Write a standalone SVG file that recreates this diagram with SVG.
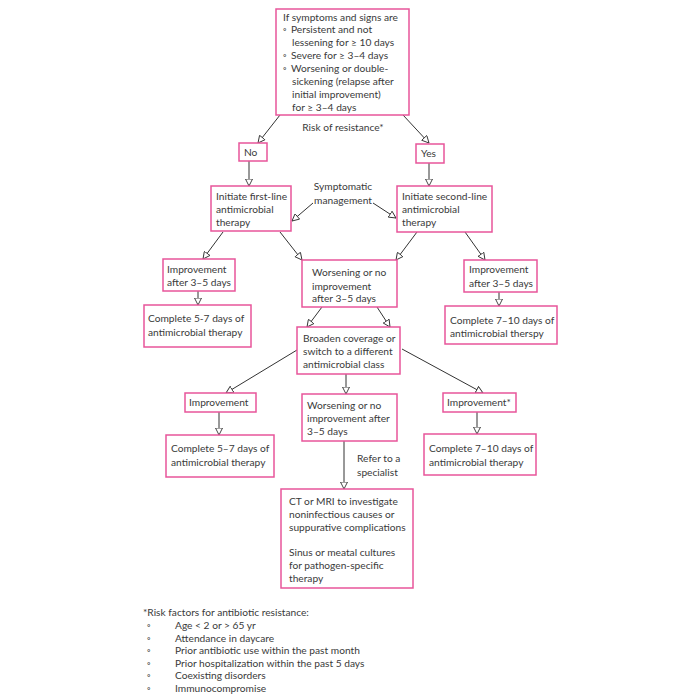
<svg xmlns="http://www.w3.org/2000/svg" width="700" height="700" viewBox="0 0 700 700">
<style>
.box{fill:#fff;stroke:#e8559a;stroke-width:1.5}
.t{font-family:Lato,"Liberation Sans",sans-serif;font-size:10.2px;fill:#3a3a3a}
.m{text-anchor:middle}
.c{fill:none;stroke:#333;stroke-width:1}
</style>
<defs>
<marker id="ah" markerUnits="userSpaceOnUse" markerWidth="8" markerHeight="8" viewBox="0 0 8 8" refX="7.5" refY="4" orient="auto">
<path d="M0.5,0.5 L7.5,4 L0.5,7.5 z" fill="#fff" stroke="#333" stroke-width="0.9"/>
</marker>
</defs>
<rect width="700" height="700" fill="#fff"/>
<g id="connectors">
<line class="c" x1="280" y1="115" x2="258" y2="143" marker-end="url(#ah)"/>
<line class="c" x1="403" y1="115" x2="429" y2="143" marker-end="url(#ah)"/>
<line class="c" x1="249" y1="161" x2="249" y2="186" marker-end="url(#ah)"/>
<line class="c" x1="429" y1="163" x2="429" y2="186" marker-end="url(#ah)"/>
<line class="c" x1="313" y1="203" x2="292" y2="221" marker-end="url(#ah)"/>
<line class="c" x1="373" y1="203" x2="396" y2="218" marker-end="url(#ah)"/>
<line class="c" x1="223" y1="232" x2="203" y2="259" marker-end="url(#ah)"/>
<line class="c" x1="280" y1="232" x2="302" y2="260" marker-end="url(#ah)"/>
<line class="c" x1="417" y1="232" x2="396" y2="260" marker-end="url(#ah)"/>
<line class="c" x1="465" y1="232" x2="485" y2="260" marker-end="url(#ah)"/>
<line class="c" x1="198" y1="291" x2="198" y2="305" marker-end="url(#ah)"/>
<line class="c" x1="499" y1="292" x2="499" y2="306" marker-end="url(#ah)"/>
<line class="c" x1="322" y1="307" x2="307" y2="327" marker-end="url(#ah)"/>
<line class="c" x1="377" y1="307" x2="390" y2="327" marker-end="url(#ah)"/>
<line class="c" x1="297" y1="350" x2="226" y2="393" marker-end="url(#ah)"/>
<line class="c" x1="346" y1="374" x2="346" y2="394" marker-end="url(#ah)"/>
<line class="c" x1="402" y1="349" x2="483" y2="393" marker-end="url(#ah)"/>
<line class="c" x1="219" y1="412" x2="219" y2="435" marker-end="url(#ah)"/>
<line class="c" x1="477" y1="412" x2="477" y2="434" marker-end="url(#ah)"/>
<line class="c" x1="344" y1="441" x2="344" y2="489" marker-end="url(#ah)"/>
<text class="t m" x="343" y="131">Risk of resistance*</text>
<text class="t m" x="343" y="190">Symptomatic</text>
<text class="t m" x="343" y="204">management</text>
<text class="t" x="357" y="462">Refer to a</text>
<text class="t" x="357" y="476">specialist</text>
</g>
<g id="n-start">
<rect class="box" x="276" y="9" width="133" height="106"/>
<text class="t" x="283" y="20.5">If symptoms and signs are</text>
<text class="t" x="283" y="33.4">◦</text><text class="t" x="291" y="33.4">Persistent and not</text>
<text class="t" x="292" y="46.3">lessening for ≥ 10 days</text>
<text class="t" x="283" y="59.2">◦</text><text class="t" x="291" y="59.2">Severe for ≥ 3–4 days</text>
<text class="t" x="283" y="72.1">◦</text><text class="t" x="291" y="72.1">Worsening or double-</text>
<text class="t" x="292" y="85">sickening (relapse after</text>
<text class="t" x="292" y="97.9">initial improvement)</text>
<text class="t" x="292" y="110.8">for ≥ 3–4 days</text>
</g>
<g id="n-no">
<rect class="box" x="239" y="143" width="28" height="18"/>
<text class="t" x="244" y="156">No</text>
</g>
<g id="n-yes">
<rect class="box" x="416" y="144" width="28" height="19"/>
<text class="t" x="421" y="157">Yes</text>
</g>
<g id="n-first">
<rect class="box" x="211" y="186" width="80" height="45"/>
<text class="t" x="216" y="200">Initiate first-line</text>
<text class="t" x="216" y="213">antimicrobial</text>
<text class="t" x="216" y="226">therapy</text>
</g>
<g id="n-second">
<rect class="box" x="397" y="186" width="95" height="46"/>
<text class="t" x="402" y="200">Initiate second-line</text>
<text class="t" x="402" y="213">antimicrobial</text>
<text class="t" x="402" y="226">therapy</text>
</g>
<g id="n-imp1">
<rect class="box" x="163" y="259" width="72" height="32"/>
<text class="t" x="167" y="273">Improvement</text>
<text class="t" x="167" y="286">after 3–5 days</text>
</g>
<g id="n-worse1">
<rect class="box" x="302" y="260" width="95" height="47"/>
<text class="t" x="312" y="276">Worsening or no</text>
<text class="t" x="312" y="289.5">improvement</text>
<text class="t" x="312" y="302">after 3–5 days</text>
</g>
<g id="n-imp2">
<rect class="box" x="464" y="260" width="73" height="32"/>
<text class="t" x="469" y="273">Improvement</text>
<text class="t" x="469" y="286.5">after 3–5 days</text>
</g>
<g id="n-comp1">
<rect class="box" x="144" y="305" width="107" height="42"/>
<text class="t" x="148" y="322">Complete 5-7 days of</text>
<text class="t" x="148" y="336">antimicrobial therapy</text>
</g>
<g id="n-comp2">
<rect class="box" x="445" y="306" width="112" height="38"/>
<text class="t" x="450" y="323.5">Complete 7–10 days of</text>
<text class="t" x="450" y="336.5">antimicrobial therspy</text>
</g>
<g id="n-broaden">
<rect class="box" x="297" y="327" width="103" height="47"/>
<text class="t" x="303" y="342">Broaden coverage or</text>
<text class="t" x="303" y="355">switch to a different</text>
<text class="t" x="303" y="368">antimicrobial class</text>
</g>
<g id="n-imp3">
<rect class="box" x="185" y="393" width="71" height="19"/>
<text class="t" x="189" y="406">Improvement</text>
</g>
<g id="n-worse2">
<rect class="box" x="302" y="394" width="95" height="47"/>
<text class="t" x="307" y="409">Worsening or no</text>
<text class="t" x="307" y="422">improvement after</text>
<text class="t" x="307" y="435">3–5 days</text>
</g>
<g id="n-imp4">
<rect class="box" x="443" y="393" width="73" height="19"/>
<text class="t" x="447" y="406">Improvement*</text>
</g>
<g id="n-comp3">
<rect class="box" x="166" y="435" width="108" height="42"/>
<text class="t" x="171" y="452">Complete 5–7 days of</text>
<text class="t" x="171" y="466">antimicrobial therapy</text>
</g>
<g id="n-comp4">
<rect class="box" x="424" y="434" width="112" height="41"/>
<text class="t" x="429" y="452">Complete 7–10 days of</text>
<text class="t" x="429" y="466">antimicrobial therapy</text>
</g>
<g id="n-ct">
<rect class="box" x="281" y="489" width="132" height="99"/>
<text class="t" x="289" y="505">CT or MRI to investigate</text>
<text class="t" x="289" y="518">noninfectious causes or</text>
<text class="t" x="289" y="531">suppurative complications</text>
<text class="t" x="289" y="556">Sinus or meatal cultures</text>
<text class="t" x="289" y="569">for pathogen-specific</text>
<text class="t" x="289" y="582">therapy</text>
</g>
<g id="footnote">
<text class="t" x="143" y="616">*Risk factors for antibiotic resistance:</text>
<text class="t" x="147" y="629">◦</text><text class="t" x="175" y="629">Age &lt; 2 or &gt; 65 yr</text>
<text class="t" x="147" y="641.5">◦</text><text class="t" x="175" y="641.5">Attendance in daycare</text>
<text class="t" x="147" y="654">◦</text><text class="t" x="175" y="654">Prior antibiotic use within the past month</text>
<text class="t" x="147" y="666.5">◦</text><text class="t" x="175" y="666.5">Prior hospitalization within the past 5 days</text>
<text class="t" x="147" y="679">◦</text><text class="t" x="175" y="679">Coexisting disorders</text>
<text class="t" x="147" y="691.5">◦</text><text class="t" x="175" y="691.5">Immunocompromise</text>
</g>
</svg>
